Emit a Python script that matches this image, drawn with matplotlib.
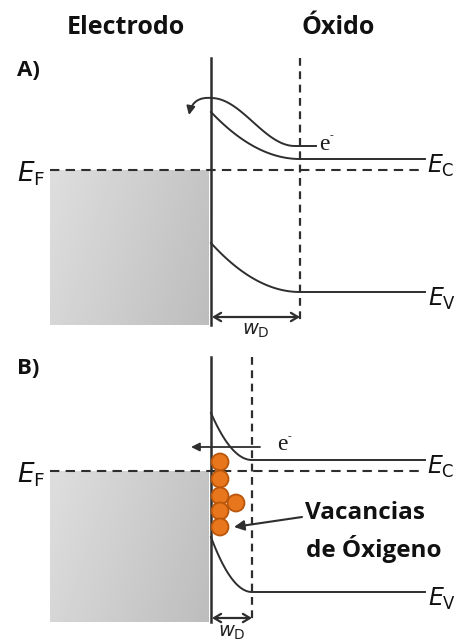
import matplotlib.pyplot as plt
import numpy as np
from matplotlib.patches import FancyArrowPatch, Circle

# --- diagram values (pixel units, y grows downwards) ---
panel_names = ['A)', 'B)']
panel_label_y = [70, 368]
line_top_y = [58, 357]
line_bottom_y = [325, 622]
interface_x = 211
depletion_edge_x = [300, 252]      # end of band bending (w_D)
fermi_y = [170, 471]
cb_surface_y = [112, 413]
cb_bulk_y = [159, 460]
vb_surface_y = [243, 537]
vb_bulk_y = [292, 592]
wd_arrow_y = [317, 618]
band_end_x = 425

# hot electron path in A) and tunnelling electron in B)
hot_e_top_y = 98
hot_e_bottom_y = 146
tunnel_e_y = 447

# oxygen vacancies in B)
vac_x = [220, 220, 220, 220, 220, 236]
vac_y = [462, 479, 496, 511, 527, 503]

ink = '#2e2e2e'
bold_font = 'Open Sans'

fig = plt.figure(figsize=(4.59, 6.40), dpi=100)
ax = fig.add_axes([0, 0, 1, 1])
ax.set_xlim(0, 459)
ax.set_ylim(640, 0)
ax.axis('off')


def band(x0, x1, y_surf, y_bulk, n=80):
    # parabolic band bending from the interface to the depletion edge
    t = np.linspace(0, 1, n)
    xs = x0 + (x1 - x0) * t
    ys = y_bulk - (y_bulk - y_surf) * (1 - t) ** 2
    return np.r_[xs, band_end_x], np.r_[ys, y_bulk]


def electron(x, y):
    ax.text(x, y, 'e', ha='left', va='center', fontsize=17,
            family='Liberation Serif', color='#1e1e1e')
    ax.text(x + 11, y - 8, '-', ha='left', va='center', fontsize=8,
            family='Liberation Serif', color='#1e1e1e')


# headers
ax.text(126, 28, 'Electrodo', ha='center', va='center', fontsize=18,
        fontweight='bold', family=bold_font, color='#111111')
ax.text(338, 28, 'Óxido', ha='center', va='center', fontsize=18,
        fontweight='bold', family=bold_font, color='#111111')

# grey gradient for the filled electrode states
grad = np.tile(np.linspace(0.87, 0.77, 100), (50, 1))
grad = grad - np.linspace(0, 0.03, 50)[:, None]

for i in range(2):
    xd = depletion_edge_x[i]
    ax.text(17, panel_label_y[i], panel_names[i], ha='left', va='center',
            fontsize=16, fontweight='bold', family=bold_font, color='#111111')

    # filled states of the metal
    ax.imshow(grad, cmap='gray', vmin=0, vmax=1, aspect='auto', zorder=1,
              extent=(50, interface_x - 2, line_bottom_y[i], fermi_y[i]))

    # Fermi level
    ax.plot([50, band_end_x], [fermi_y[i]] * 2, color=ink, lw=1.5,
            ls=(0, (4.5, 3)), zorder=2)
    ax.text(17, fermi_y[i] + 4, r'$E_{\mathrm{F}}$', ha='left', va='center',
            fontsize=19, color='#111111')

    # depletion edge
    ax.plot([xd, xd], [line_top_y[i], line_bottom_y[i] - 3], color=ink, lw=1.6,
            ls=(0, (3.5, 2.5)), zorder=2)

    # interface
    ax.plot([interface_x, interface_x], [line_top_y[i], line_bottom_y[i]],
            color=ink, lw=1.8, zorder=4)

    # bands
    bx, by = band(interface_x, xd, cb_surface_y[i], cb_bulk_y[i])
    ax.plot(bx, by, color=ink, lw=1.4, zorder=3)
    bx, by = band(interface_x, xd, vb_surface_y[i], vb_bulk_y[i])
    ax.plot(bx, by, color=ink, lw=1.4, zorder=3)
    ax.text(427, cb_bulk_y[i] + 7, r'$E_{\mathrm{C}}$', ha='left', va='center',
            fontsize=17, color='#111111')
    ax.text(428, vb_bulk_y[i] + 7, r'$E_{\mathrm{V}}$', ha='left', va='center',
            fontsize=17, color='#111111')

    # depletion width
    ax.add_patch(FancyArrowPatch((interface_x + 1, wd_arrow_y[i]), (xd, wd_arrow_y[i]),
                                 arrowstyle='<->,head_length=5,head_width=3',
                                 color=ink, lw=1.6, shrinkA=0, shrinkB=0, zorder=4))
    ax.text((interface_x + xd) / 2, wd_arrow_y[i] + 14, r'$w_{\mathrm{D}}$',
            ha='center', va='center', fontsize=14, color='#222222')

# A) hot electron over the barrier
t = np.linspace(0, 1, 80)
ex = interface_x + (depletion_edge_x[0] - 5 - interface_x) * t
ey = hot_e_top_y + (hot_e_bottom_y - hot_e_top_y) * (1 - np.cos(np.pi * t)) / 2
ax.plot(np.r_[ex, 316], np.r_[ey, hot_e_bottom_y], color=ink, lw=1.4, zorder=3)
ax.add_patch(FancyArrowPatch((interface_x + 1, hot_e_top_y), (189, 115),
                             connectionstyle='arc3,rad=0.45',
                             arrowstyle='-|>,head_length=5,head_width=2.5',
                             color=ink, lw=1.4, shrinkA=0, shrinkB=0, zorder=3))
electron(319, hot_e_bottom_y - 2)

# B) electron tunnelling through the thin barrier
ax.add_patch(FancyArrowPatch((260, tunnel_e_y), (191, tunnel_e_y),
                             arrowstyle='-|>,head_length=5,head_width=2.5',
                             color=ink, lw=1.3, shrinkA=0, shrinkB=0, zorder=3))
electron(277, tunnel_e_y - 2)

# oxygen vacancies
for cx, cy in zip(vac_x, vac_y):
    ax.add_patch(Circle((cx, cy), 8.5, facecolor='#e8761c', edgecolor='#b9560c',
                        lw=1.3, zorder=5))
ax.add_patch(FancyArrowPatch((302, 517), (234, 527),
                             arrowstyle='-|>,head_length=6,head_width=3',
                             color=ink, lw=1.5, shrinkA=0, shrinkB=0, zorder=6))
ax.text(365, 513, 'Vacancias', ha='center', va='center', fontsize=17.5,
        fontweight='bold', family=bold_font, color='#111111')
ax.text(374, 549, 'de Óxigeno', ha='center', va='center', fontsize=17.5,
        fontweight='bold', family=bold_font, color='#111111')

fig.savefig('out.png', dpi=100)
